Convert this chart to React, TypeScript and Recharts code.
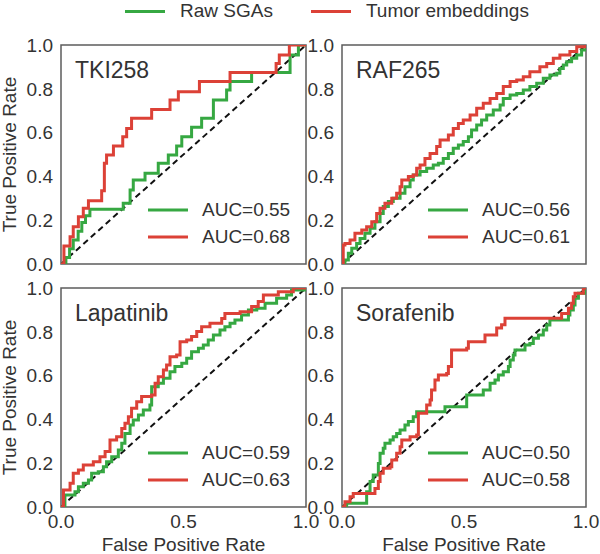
import { LineChart, Line, XAxis, YAxis, ReferenceArea, Legend } from "recharts";

const FONT = '"Liberation Sans", Arial, Helvetica, sans-serif';
const GREEN = "#36a842";
const RED = "#dc4137";
const TEXT = "#333333";
const FRAME = "#5c5c5c";

const seriesNames = ["Raw SGAs", "Tumor embeddings"];
const yTicks = [0, 0.2, 0.4, 0.6, 0.8, 1.0];
const xTicks = [0, 0.5, 1.0];

// ROC corners: at each fpr the curve rises to the given tpr
const tkiRawFpr = [0.02, 0.035, 0.05, 0.07, 0.085, 0.1, 0.118, 0.254, 0.282, 0.295, 0.343, 0.397, 0.438, 0.472, 0.493, 0.533, 0.574, 0.622, 0.676, 0.69, 0.778, 0.935, 0.969, 1.0];
const tkiRawTpr = [0.03, 0.07, 0.11, 0.15, 0.19, 0.22, 0.25, 0.277, 0.338, 0.384, 0.414, 0.46, 0.498, 0.539, 0.581, 0.624, 0.665, 0.749, 0.795, 0.833, 0.875, 0.954, 1.0, 1.0];
const tkiEmbFpr = [0.012, 0.037, 0.05, 0.071, 0.091, 0.112, 0.166, 0.177, 0.186, 0.214, 0.252, 0.268, 0.288, 0.37, 0.445, 0.479, 0.565, 0.69, 0.878, 0.891, 0.932, 1.0];
const tkiEmbTpr = [0.082, 0.125, 0.17, 0.216, 0.254, 0.289, 0.335, 0.46, 0.498, 0.539, 0.581, 0.619, 0.665, 0.706, 0.749, 0.787, 0.833, 0.875, 0.916, 0.954, 1.0, 1.0];

const rafRawFpr = [0.012, 0.026, 0.04, 0.06, 0.074, 0.094, 0.115, 0.135, 0.156, 0.169, 0.19, 0.21, 0.238, 0.258, 0.279, 0.292, 0.32, 0.347, 0.374, 0.395, 0.415, 0.436, 0.456, 0.477, 0.497, 0.518, 0.531, 0.552, 0.572, 0.593, 0.62, 0.648, 0.661, 0.689, 0.716, 0.743, 0.77, 0.798, 0.825, 0.852, 0.88, 0.893, 0.907, 0.921, 0.941, 0.962, 0.982, 1.0];
const rafRawTpr = [0.018, 0.049, 0.072, 0.094, 0.117, 0.14, 0.163, 0.193, 0.231, 0.262, 0.285, 0.3, 0.323, 0.353, 0.384, 0.406, 0.422, 0.437, 0.452, 0.46, 0.482, 0.505, 0.528, 0.543, 0.559, 0.581, 0.612, 0.635, 0.658, 0.68, 0.703, 0.726, 0.756, 0.772, 0.779, 0.795, 0.81, 0.825, 0.848, 0.863, 0.871, 0.893, 0.909, 0.924, 0.939, 0.954, 0.977, 1.0];
const rafEmbFpr = [0.005, 0.012, 0.033, 0.053, 0.081, 0.101, 0.122, 0.142, 0.156, 0.176, 0.204, 0.224, 0.238, 0.245, 0.272, 0.292, 0.306, 0.32, 0.34, 0.361, 0.388, 0.402, 0.436, 0.456, 0.477, 0.497, 0.525, 0.552, 0.579, 0.607, 0.634, 0.661, 0.689, 0.716, 0.743, 0.77, 0.811, 0.839, 0.866, 0.893, 0.934, 0.962, 1.0];
const rafEmbTpr = [0.087, 0.094, 0.11, 0.14, 0.155, 0.17, 0.193, 0.231, 0.254, 0.277, 0.3, 0.323, 0.353, 0.384, 0.399, 0.406, 0.437, 0.452, 0.482, 0.505, 0.536, 0.566, 0.589, 0.619, 0.642, 0.658, 0.68, 0.711, 0.734, 0.756, 0.779, 0.81, 0.833, 0.84, 0.855, 0.878, 0.901, 0.916, 0.939, 0.954, 0.97, 0.992, 1.0];

const lapRawFpr = [0.016, 0.057, 0.071, 0.091, 0.112, 0.125, 0.152, 0.173, 0.186, 0.207, 0.234, 0.248, 0.261, 0.282, 0.295, 0.316, 0.336, 0.363, 0.37, 0.397, 0.418, 0.445, 0.465, 0.493, 0.513, 0.533, 0.561, 0.581, 0.601, 0.622, 0.649, 0.669, 0.69, 0.71, 0.737, 0.765, 0.799, 0.833, 0.88, 0.921, 0.941, 1.0];
const lapRawTpr = [0.055, 0.07, 0.093, 0.108, 0.123, 0.154, 0.161, 0.184, 0.207, 0.23, 0.26, 0.291, 0.336, 0.374, 0.397, 0.42, 0.443, 0.466, 0.549, 0.565, 0.588, 0.618, 0.641, 0.656, 0.679, 0.709, 0.725, 0.74, 0.763, 0.785, 0.808, 0.823, 0.839, 0.854, 0.877, 0.9, 0.907, 0.93, 0.953, 0.968, 0.991, 1.0];
const lapEmbFpr = [0.01, 0.037, 0.05, 0.071, 0.091, 0.132, 0.159, 0.18, 0.2, 0.227, 0.248, 0.261, 0.275, 0.288, 0.309, 0.329, 0.37, 0.384, 0.397, 0.418, 0.431, 0.445, 0.472, 0.486, 0.513, 0.533, 0.554, 0.574, 0.608, 0.656, 0.669, 0.731, 0.778, 0.805, 0.826, 0.887, 0.948, 1.0];
const lapEmbTpr = [0.078, 0.108, 0.154, 0.169, 0.192, 0.207, 0.23, 0.253, 0.306, 0.321, 0.359, 0.382, 0.412, 0.451, 0.481, 0.504, 0.511, 0.565, 0.595, 0.626, 0.648, 0.686, 0.694, 0.755, 0.763, 0.778, 0.801, 0.823, 0.839, 0.861, 0.884, 0.892, 0.915, 0.938, 0.968, 0.983, 1.0, 1.0];

const sorRawFpr = [0.019, 0.101, 0.115, 0.128, 0.149, 0.156, 0.169, 0.176, 0.197, 0.21, 0.224, 0.238, 0.258, 0.272, 0.292, 0.306, 0.422, 0.511, 0.579, 0.607, 0.627, 0.641, 0.661, 0.682, 0.689, 0.702, 0.709, 0.75, 0.77, 0.784, 0.805, 0.825, 0.839, 0.852, 0.928, 0.934, 0.948, 0.955, 0.969, 1.0];
const sorRawTpr = [0.017, 0.07, 0.116, 0.146, 0.199, 0.245, 0.268, 0.291, 0.306, 0.321, 0.336, 0.352, 0.374, 0.39, 0.412, 0.435, 0.458, 0.511, 0.534, 0.565, 0.58, 0.603, 0.618, 0.641, 0.671, 0.694, 0.717, 0.74, 0.747, 0.77, 0.785, 0.808, 0.831, 0.854, 0.877, 0.9, 0.922, 0.953, 0.976, 1.0];
const sorEmbFpr = [0.012, 0.033, 0.046, 0.135, 0.149, 0.156, 0.169, 0.197, 0.204, 0.224, 0.238, 0.245, 0.279, 0.306, 0.313, 0.347, 0.361, 0.367, 0.381, 0.395, 0.429, 0.436, 0.449, 0.511, 0.518, 0.586, 0.634, 0.654, 0.668, 0.9, 0.928, 0.941, 0.948, 0.955, 0.989, 1.0];
const sorEmbTpr = [0.024, 0.047, 0.062, 0.085, 0.116, 0.154, 0.177, 0.184, 0.215, 0.245, 0.275, 0.306, 0.321, 0.329, 0.428, 0.466, 0.489, 0.534, 0.58, 0.603, 0.61, 0.641, 0.717, 0.725, 0.755, 0.785, 0.817, 0.832, 0.862, 0.884, 0.907, 0.93, 0.96, 0.976, 1.0, 1.0];

const diagonal = [{ x: 0, y: 0 }, { x: 1, y: 1 }];

// turn corner lists into a staircase (horizontal then vertical)
const toSteps = (fpr: number[], tpr: number[]) => {
  const pts = [{ x: 0, y: 0 }];
  let prev = 0;
  fpr.forEach((f, i) => {
    pts.push({ x: f, y: prev });
    pts.push({ x: f, y: tpr[i] });
    prev = tpr[i];
  });
  pts.push({ x: 1, y: prev });
  return pts;
};

const panels = [
  { title: "TKI258", raw: toSteps(tkiRawFpr, tkiRawTpr), emb: toSteps(tkiEmbFpr, tkiEmbTpr), auc: ["0.55", "0.68"], col: 0, row: 0 },
  { title: "RAF265", raw: toSteps(rafRawFpr, rafRawTpr), emb: toSteps(rafEmbFpr, rafEmbTpr), auc: ["0.56", "0.61"], col: 1, row: 0 },
  { title: "Lapatinib", raw: toSteps(lapRawFpr, lapRawTpr), emb: toSteps(lapEmbFpr, lapEmbTpr), auc: ["0.59", "0.63"], col: 0, row: 1 },
  { title: "Sorafenib", raw: toSteps(sorRawFpr, sorRawTpr), emb: toSteps(sorEmbFpr, sorEmbTpr), auc: ["0.50", "0.58"], col: 1, row: 1 },
];

const tickStyle = { fill: TEXT, fontSize: 19, fontFamily: FONT };
const fmt = (v: number) => v.toFixed(1);

const YLabel = (props: any) => {
  const vb = props.viewBox || { x: 0, y: 0, width: 0, height: 0 };
  const cy = vb.y + vb.height / 2;
  return (
    <text x={15.5} y={cy} transform={`rotate(-90 15.5 ${cy})`} textAnchor="middle" fill={TEXT} fontSize={19} fontFamily={FONT}>
      True Positive Rate
    </text>
  );
};

const XLabel = (props: any) => {
  const vb = props.viewBox || { x: 0, y: 0, width: 0, height: 0 };
  return (
    <text x={vb.x + vb.width / 2} y={vb.y + 44} textAnchor="middle" fill={TEXT} fontSize={19} fontFamily={FONT}>
      False Positive Rate
    </text>
  );
};

const titleLabel = (title: string) => (props: any) => {
  const vb = props.viewBox || { x: 0, y: 0 };
  return (
    <text x={vb.x + 14} y={vb.y + 33} fill={TEXT} fontSize={23} fontFamily={FONT}>
      {title}
    </text>
  );
};

const AucLegend = (props: any) => {
  const items = (props.payload || []).filter((e: any) => e.type !== "none");
  return (
    <div style={{ fontFamily: FONT, fontSize: 19, color: TEXT }}>
      {items.map((e: any) => (
        <div key={e.value} style={{ display: "flex", alignItems: "center", height: 27, whiteSpace: "nowrap" }}>
          <svg width={40} height={4} style={{ display: "block" }}>
            <line x1={0} y1={2} x2={40} y2={2} stroke={e.color} strokeWidth={3} />
          </svg>
          <span style={{ marginLeft: 14 }}>{e.value}</span>
        </div>
      ))}
    </div>
  );
};

const RocPanel = ({ p }: { p: (typeof panels)[number] }) => {
  const isLeft = p.col === 0;
  const isBottom = p.row === 1;
  const width = isLeft ? 326 : 325;
  const height = isBottom ? 289 : 249;
  return (
    <div style={{ position: "absolute", left: isLeft ? 0 : 281, top: isBottom ? 273 : 30 }}>
      <LineChart width={width} height={height} margin={{ top: 15, right: 20, bottom: isBottom ? 10 : 15, left: 21 }}>
        <XAxis
          dataKey="x"
          type="number"
          domain={[0, 1]}
          ticks={xTicks}
          tickFormatter={fmt}
          interval={0}
          hide={!isBottom}
          height={45}
          tickLine={false}
          axisLine={false}
          tick={tickStyle}
          allowDataOverflow
          label={isBottom ? XLabel : undefined}
        />
        <YAxis
          type="number"
          domain={[0, 1]}
          ticks={yTicks}
          tickFormatter={fmt}
          interval={0}
          width={40}
          tickLine={false}
          axisLine={false}
          tick={tickStyle}
          allowDataOverflow
          label={isLeft ? YLabel : undefined}
        />
        <Line data={diagonal} dataKey="y" stroke="#111111" strokeWidth={2} strokeDasharray="6 4" dot={false} legendType="none" isAnimationActive={false} />
        <Line data={p.raw} dataKey="y" name={`AUC=${p.auc[0]}`} stroke={GREEN} strokeWidth={3} dot={false} isAnimationActive={false} />
        <Line data={p.emb} dataKey="y" name={`AUC=${p.auc[1]}`} stroke={RED} strokeWidth={3} dot={false} isAnimationActive={false} />
        <ReferenceArea x1={0} x2={1} y1={0} y2={1} fill="none" fillOpacity={0} stroke={FRAME} strokeWidth={1.5} label={titleLabel(p.title)} />
        <Legend
          layout="vertical"
          align="center"
          verticalAlign="middle"
          content={AucLegend}
          wrapperStyle={{ left: isLeft ? 148 : 147, top: 166.5, width: 200, height: 54 }}
        />
      </LineChart>
    </div>
  );
};

const TopLegend = () => (
  <div style={{ position: "absolute", left: 125, top: 1, height: 20, display: "flex", alignItems: "center", fontFamily: FONT, fontSize: 19, color: TEXT, whiteSpace: "nowrap" }}>
    <span style={{ display: "inline-block", width: 40, height: 3, background: GREEN }} />
    <span style={{ marginLeft: 15 }}>{seriesNames[0]}</span>
    <span style={{ display: "inline-block", width: 40, height: 3, background: RED, marginLeft: 38 }} />
    <span style={{ marginLeft: 15 }}>{seriesNames[1]}</span>
  </div>
);

export default function App() {
  return (
    <div style={{ position: "relative", width: 600, height: 554, overflow: "hidden", background: "#ffffff", fontFamily: FONT }}>
      <style>{"body{margin:0}"}</style>
      <TopLegend />
      {panels.map((p) => (
        <RocPanel key={p.title} p={p} />
      ))}
    </div>
  );
}
